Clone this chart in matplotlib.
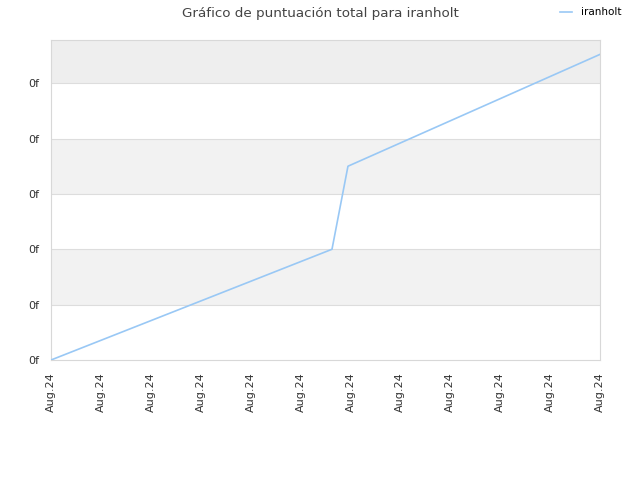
import numpy as np
import matplotlib.pyplot as plt

# data (x in tick steps, y in grid steps)
x_vals = [0, 5.63, 5.95, 11]
y_vals = [0, 2.0, 3.5, 5.52]
x_ticks = list(range(12))
x_labels = ["Aug.24"] * 12
y_ticks = [0, 1, 2, 3, 4, 5]
y_labels = ["0f"] * 6
series = "iranholt"

fig = plt.figure(figsize=(6.4, 4.8), dpi=100)
ax = fig.add_axes([0.0797, 0.25, 0.8578, 0.6667])

ax.set_xlim(0, 11)
ax.set_ylim(0, 5.78)

# alternating bands
for i in range(6):
    lo = y_ticks[i]
    hi = y_ticks[i + 1] if i + 1 < len(y_ticks) else 5.78
    if i % 2 == 1:
        col = "#eeeeee" if i == 5 else "#f2f2f2"
        ax.axhspan(lo, hi, color=col, zorder=0, lw=0)

for y in y_ticks[1:]:
    ax.axhline(y, color="#dddddd", lw=0.8, zorder=1)

ax.plot(x_vals, y_vals, color="#99c8f5", lw=1.2, label=series, zorder=3)

ax.set_xticks(x_ticks)
ax.set_xticklabels(x_labels, rotation=90, fontsize=8, color="#333333")
ax.set_yticks(y_ticks)
ax.set_yticklabels(y_labels, fontsize=8, color="#333333")
ax.tick_params(axis="x", length=0, pad=9)
ax.tick_params(axis="y", length=0, pad=8.5)

for s in ax.spines.values():
    s.set_color("#d8d8d8")
    s.set_linewidth(0.8)

fig.text(0.5, 0.972, "Gráfico de puntuación total para iranholt",
         ha="center", va="center", fontsize=9.7, color="#444444")
fig.legend(loc="center right", bbox_to_anchor=(0.985, 0.974), frameon=False,
           fontsize=7.5, handlelength=1.2, handletextpad=0.8)

fig.savefig("out.png", dpi=100)
